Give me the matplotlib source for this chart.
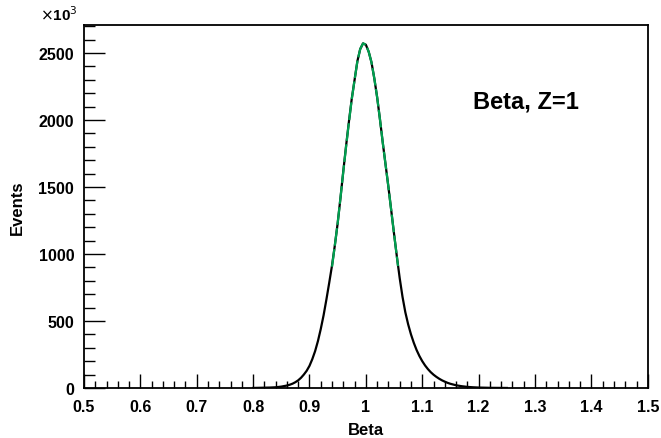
import matplotlib
matplotlib.use('Agg')
import matplotlib.pyplot as plt
from matplotlib.ticker import MultipleLocator

plt.rcParams['font.family'] = ['Liberation Sans', 'DejaVu Sans']

# histogram of beta (events in units of 10^3)
beta = [0.80, 0.81, 0.82, 0.83, 0.84, 0.85, 0.86, 0.865, 0.87, 0.875,
        0.88, 0.885, 0.89, 0.895, 0.90, 0.905, 0.91, 0.915, 0.92, 0.925,
        0.93, 0.935, 0.94, 0.945, 0.95, 0.955, 0.96, 0.965, 0.97, 0.975,
        0.98, 0.985, 0.99, 0.995, 1.00, 1.005, 1.01, 1.015, 1.02, 1.025,
        1.03, 1.035, 1.04, 1.045, 1.05, 1.055, 1.06, 1.065, 1.07, 1.075,
        1.08, 1.085, 1.09, 1.095, 1.10, 1.105, 1.11, 1.115, 1.12, 1.125,
        1.13, 1.135, 1.14, 1.145, 1.15, 1.16, 1.17, 1.18, 1.19, 1.20,
        1.21, 1.22, 1.25]
events = [0, 1, 2, 3, 5, 10, 18, 24, 32, 43,
          57, 76, 100, 128, 165, 215, 275, 350, 440, 542,
          660, 785, 915, 1065, 1230, 1420, 1620, 1810, 1990, 2160,
          2300, 2440, 2530, 2572, 2562, 2510, 2430, 2310, 2170, 2005,
          1830, 1665, 1500, 1325, 1150, 980, 820, 680, 565, 475,
          400, 337, 283, 238, 200, 168, 141, 118, 99, 83,
          69, 57, 47, 38, 31, 20, 13, 8, 5, 3,
          2, 1, 0]

# gaussian fit over the core
fit_x = [0.94, 0.945, 0.95, 0.955, 0.96, 0.965, 0.97, 0.975, 0.98, 0.985,
         0.99, 0.995, 1.00, 1.005, 1.01, 1.015, 1.02, 1.025, 1.03, 1.035,
         1.04, 1.045, 1.05, 1.055, 1.057]
fit_y = [905, 1065, 1230, 1420, 1615, 1805, 1985, 2155, 2300, 2440,
         2530, 2572, 2562, 2510, 2430, 2310, 2170, 2005, 1830, 1665,
         1500, 1325, 1150, 980, 910]

fig = plt.figure(figsize=(6.61, 4.39), dpi=100)
ax = fig.add_axes([0.127, 0.114, 0.853, 0.827])

ax.plot(beta, events, color='black', lw=1.6)
ax.plot(fit_x, fit_y, color='#00a050', lw=1.6, ls=(0, (8, 1.5)))

ax.set_xlim(0.5, 1.5)
ax.set_ylim(0, 2710)
ax.xaxis.set_major_locator(MultipleLocator(0.1))
ax.xaxis.set_minor_locator(MultipleLocator(0.02))
ax.yaxis.set_major_locator(MultipleLocator(500))
ax.yaxis.set_minor_locator(MultipleLocator(100))
ax.xaxis.set_major_formatter(plt.FuncFormatter(lambda v, p: '%g' % round(v, 2)))

ax.tick_params(which='both', direction='in', top=False, right=False, width=1.0)
ax.tick_params(axis='x', which='major', length=10, pad=8)
ax.tick_params(axis='x', which='minor', length=5)
ax.tick_params(axis='y', which='major', length=15, pad=7)
ax.tick_params(axis='y', which='minor', length=8)
for lab in ax.get_xticklabels() + ax.get_yticklabels():
    lab.set_fontweight('bold')
    lab.set_fontsize(11.5)
for s in ax.spines.values():
    s.set_linewidth(1.3)

ax.set_xlabel('Beta', fontsize=12, fontweight='bold', labelpad=6)
ax.set_ylabel('Events', fontsize=12, fontweight='bold', labelpad=10)

fig.text(0.06, 0.952, r'$\times$10$^{3}$', fontsize=11, fontweight='bold')
ax.text(0.784, 0.79, 'Beta, Z=1', transform=ax.transAxes, fontsize=17,
        fontweight='bold', ha='center', va='center')

fig.savefig('out.png', dpi=100)
